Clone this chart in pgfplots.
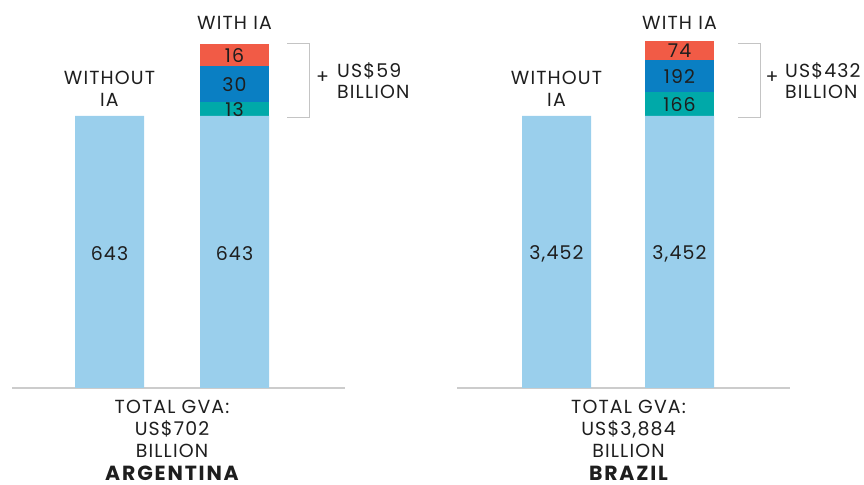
\documentclass[border=0pt]{standalone}
\usepackage{pgfplots}
\pgfplotsset{compat=1.18}
\usepackage{fontspec}
\setmainfont{Poppins}[LetterSpace=6]
\newfontfamily\boldfam{Poppins}[LetterSpace=9]
\definecolor{lblue}{HTML}{9ACFEC}
\definecolor{tealc}{HTML}{00A9A9}
\definecolor{bluec}{HTML}{0A7FC3}
\definecolor{redc}{HTML}{F15B46}
\definecolor{txt}{HTML}{1E1E1E}
\definecolor{axgray}{HTML}{CCCCCC}
\definecolor{brk}{HTML}{C4C4C4}
\newcommand{\fs}{\fontsize{19}{22}\selectfont}
\pgfplotsset{
  panel/.style={
    y=1bp, ymin=0, ymax=360,
    axis x line*=bottom, hide y axis,
    xtick=\empty, ytick=\empty,
    x axis line style={axgray, line width=1.6bp},
    clip=false, anchor=south west,
  },
  seg/.style={ybar, bar width=69bp, bar shift=0pt, draw=none, fill=#1},
  lab/.style={draw=none, mark=none, nodes near coords, point meta=explicit symbolic,
    every node near coord/.append style={anchor=center, font=\fs, text=txt, inner sep=0pt}},
}
\begin{document}
\begin{tikzpicture}[every node/.style={font=\fs, text=txt, inner sep=0pt}]
\path[use as bounding box] (0,0) rectangle (864bp,485bp);
% ---------------- Argentina ----------------
\begin{axis}[panel, at={(12bp,97bp)}, x=125bp, xmin=-0.78, xmax=1.884]
% drawn heights (cumulative), values shown as labels
\addplot[seg=redc]  coordinates {(1,344)};
\addplot[seg=bluec] coordinates {(1,321.7)};
\addplot[seg=tealc] coordinates {(1,285.6)};
\addplot[seg=lblue] coordinates {(0,272) (1,272)};
\addplot[lab] table[meta=lab] {
x y lab
0 134.5 643
1 134.5 643
1 278.3 13
1 303.2 30
1 332.5 16
};
\end{axis}
% ---------------- Brazil ----------------
\begin{axis}[panel, at={(457bp,97bp)}, x=123bp, xmin=-0.809, xmax=1.898]
\addplot[seg=redc]  coordinates {(1,347)};
\addplot[seg=bluec] coordinates {(1,328)};
\addplot[seg=tealc] coordinates {(1,295.6)};
\addplot[seg=lblue] coordinates {(0,272) (1,272)};
\addplot[lab] table[meta=lab] {
x y lab
0 134.5 {3,452}
1 134.5 {3,452}
1 283.3 166
1 311.3 192
1 337 74
};
\end{axis}
% ---------------- text ----------------
\node[anchor=base] at (234.5bp,455bp) {WITH IA};
\node[anchor=base] at (109.5bp,400bp) {WITHOUT};
\node[anchor=base] at (109.5bp,378bp) {IA};
\node[anchor=base] at (679.5bp,455bp) {WITH IA};
\node[anchor=base] at (556.5bp,400bp) {WITHOUT};
\node[anchor=base] at (556.5bp,378bp) {IA};
% brackets
\draw[brk, line width=1bp] (287bp,441bp) -- (309bp,441bp) -- (309bp,367.5bp) -- (287bp,367.5bp);
\draw[brk, line width=1bp] (738bp,441bp) -- (760.3bp,441bp) -- (760.3bp,367.5bp) -- (738bp,367.5bp);
\node[anchor=center] at (322.5bp,407bp) {+};
\node[anchor=base west] at (337bp,407.7bp) {US\$59};
\node[anchor=base west] at (337bp,386.7bp) {BILLION};
\node[anchor=center] at (772bp,407bp) {+};
\node[anchor=base west] at (785bp,407.7bp) {US\$432};
\node[anchor=base west] at (785bp,386.7bp) {BILLION};
% bottom
\node[anchor=base] at (172bp,71bp) {TOTAL GVA:};
\node[anchor=base] at (172bp,49.5bp) {US\$702};
\node[anchor=base] at (172bp,28bp) {BILLION};
\node[anchor=base, font=\fontsize{20.5}{22}\boldfam\bfseries] at (172bp,4.5bp) {ARGENTINA};
\node[anchor=base] at (628.5bp,71bp) {TOTAL GVA:};
\node[anchor=base] at (628.5bp,49.5bp) {US\$3,884};
\node[anchor=base] at (628.5bp,28bp) {BILLION};
\node[anchor=base, font=\fontsize{20.5}{22}\boldfam\bfseries] at (628.5bp,4.5bp) {BRAZIL};
\end{tikzpicture}
\end{document}
